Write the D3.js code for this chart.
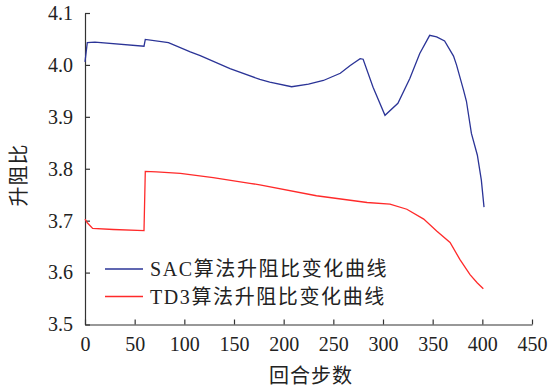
<!DOCTYPE html>
<html lang="zh">
<head>
  <meta charset="utf-8" />
  <title>升阻比变化曲线</title>
  <script src="https://cdn.jsdelivr.net/npm/d3@7"></script>
  <style>
    body { margin: 0; background: #fff; }
    text { font-family: "Liberation Serif", "Noto Sans CJK SC", serif; fill: #222; }
    .axis path, .axis line { stroke: #333; stroke-width: 1.2px; }
    .axis text { font-size: 20px; }
    .sac-line { fill: none; stroke: #2b3497; stroke-width: 1.3px; }
    .td3-line { fill: none; stroke: #ff2a2a; stroke-width: 1.3px; }
    .legend text { font-size: 20px; letter-spacing: 1.6px; }
    .label { font-size: 20px; letter-spacing: 1px; }
  </style>
</head>
<body>
<script>
  var w = 553;
  var h = 387;
  var margin = { top: 13, right: 21, bottom: 62.5, left: 85 };

  // SAC curve (step, lift-drag ratio)
  var sacSteps = [0, 2.3, 10, 59.4, 60.7, 84, 106, 116, 146, 176, 186, 208, 225, 240, 257, 267, 277, 280,
    290, 302, 315, 327, 337, 347, 354, 362, 371, 374, 381, 384, 389, 395, 399, 401.7];
  var sacValues = [4.006, 4.043, 4.044, 4.036, 4.049, 4.043, 4.025, 4.018, 3.993, 3.972, 3.967, 3.958, 3.963, 3.970, 3.984, 3.999, 4.012, 4.011,
    3.957, 3.903, 3.926, 3.974, 4.022, 4.057, 4.054, 4.046, 4.017, 4.000, 3.952, 3.930, 3.868, 3.826, 3.778, 3.726];

  // TD3 curve
  var td3Steps = [0, 2.3, 7.7, 28.5, 59.4, 60.7, 72, 96, 129, 166, 176, 233, 284, 307, 324, 341, 354, 367.5, 377.5, 387.6, 395, 401];
  var td3Values = [3.703, 3.696, 3.685, 3.683, 3.681, 3.795, 3.794, 3.791, 3.783, 3.772, 3.769, 3.748, 3.735, 3.732, 3.722, 3.703, 3.680, 3.658, 3.625, 3.596, 3.580, 3.569];

  var xTicks = [0, 50, 100, 150, 200, 250, 300, 350, 400, 450];
  var yTicks = [3.5, 3.6, 3.7, 3.8, 3.9, 4.0, 4.1];
  var seriesNames = ["SAC算法升阻比变化曲线", "TD3算法升阻比变化曲线"];
  var xTitle = "回合步数";
  var yTitle = "升阻比";

  var svg = d3.select("body").append("svg")
    .attr("width", w)
    .attr("height", h);

  var xScale = d3.scaleLinear()
    .domain([0, 450])
    .range([margin.left, w - margin.right]);

  var yScale = d3.scaleLinear()
    .domain([3.5, 4.1])
    .range([h - margin.bottom, margin.top]);

  var xAxis = d3.axisBottom(xScale)
    .tickValues(xTicks)
    .tickSizeInner(-5)
    .tickSizeOuter(0)
    .tickPadding(12);

  var yAxis = d3.axisLeft(yScale)
    .tickValues(yTicks)
    .tickFormat(d3.format(".1f"))
    .tickSizeInner(-5)
    .tickSizeOuter(0)
    .tickPadding(12);

  svg.append("g")
    .attr("class", "axis")
    .attr("transform", "translate(0," + (h - margin.bottom) + ")")
    .call(xAxis);

  svg.append("g")
    .attr("class", "axis")
    .attr("transform", "translate(" + margin.left + ",0)")
    .call(yAxis);

  var line = d3.line()
    .x(function(d) { return xScale(d[0]); })
    .y(function(d) { return yScale(d[1]); });

  var sacData = sacSteps.map(function(s, i) { return [s, sacValues[i]]; });
  var td3Data = td3Steps.map(function(s, i) { return [s, td3Values[i]]; });

  svg.append("path")
    .datum(sacData)
    .attr("class", "sac-line")
    .attr("d", line);

  svg.append("path")
    .datum(td3Data)
    .attr("class", "td3-line")
    .attr("d", line);

  // legend
  var legend = svg.append("g").attr("class", "legend");
  var legendClasses = ["sac-line", "td3-line"];
  seriesNames.forEach(function(name, i) {
    var y = 269 + i * 27.5;
    legend.append("line")
      .attr("class", legendClasses[i])
      .attr("x1", 105)
      .attr("x2", 143)
      .attr("y1", y)
      .attr("y2", y);
    legend.append("text")
      .attr("x", 150)
      .attr("y", y + 7)
      .text(name);
  });

  svg.append("text")
    .attr("class", "label")
    .attr("x", 311)
    .attr("y", 383)
    .attr("text-anchor", "middle")
    .text(xTitle);

  svg.append("text")
    .attr("class", "label")
    .attr("transform", "translate(26,175) rotate(-90)")
    .attr("text-anchor", "middle")
    .text(yTitle);
</script>
</body>
</html>
